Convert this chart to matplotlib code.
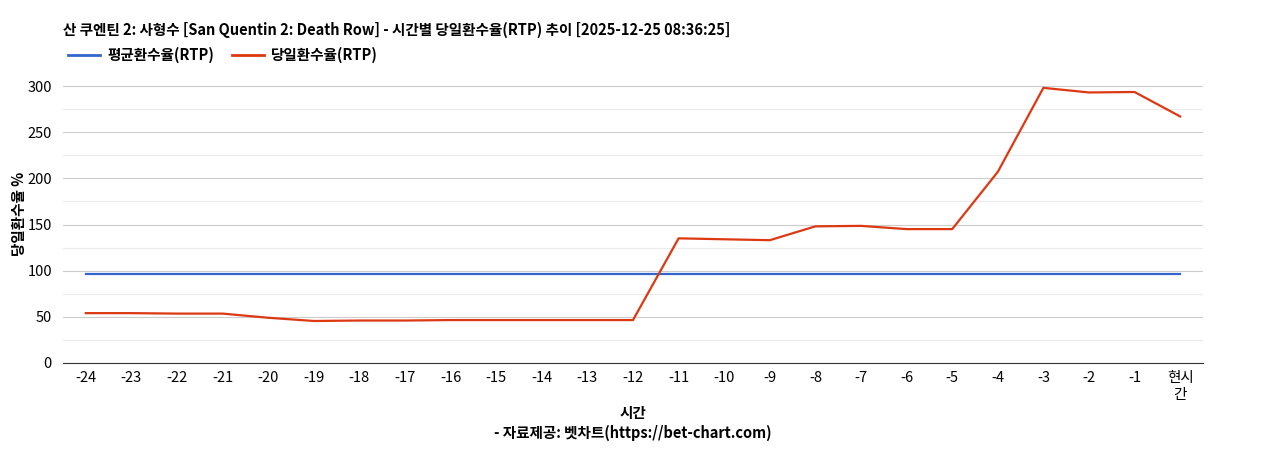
import matplotlib
matplotlib.use("Agg")
import matplotlib.pyplot as plt
from matplotlib.lines import Line2D

plt.rcParams['font.family'] = ['Noto Sans CJK KR', 'DejaVu Sans']

categories = ['-24','-23','-22','-21','-20','-19','-18','-17','-16','-15','-14','-13','-12',
              '-11','-10','-9','-8','-7','-6','-5','-4','-3','-2','-1','현시\n간']
daily_rtp = [54, 54, 53.5, 53.5, 49, 45.5, 46, 46, 46.5, 46.5, 46.5, 46.5, 46.5,
             135, 134, 133, 148, 148.5, 145, 145, 207, 298, 293, 293.5, 267]
avg_rtp = [96.5] * len(categories)

fig = plt.figure(figsize=(12.68, 4.5), dpi=100)
ax = fig.add_axes([63/1268, 1-363/450, 1140/1268, (363-64)/450])
x = list(range(len(categories)))
ax.plot(x, avg_rtp, color='#3366cc', lw=1.6)
ax.plot(x, daily_rtp, color='#dc3912', lw=1.6)
ax.set_xlim(-0.5, len(categories)-0.5)
ax.set_ylim(0, 300*(363-64)/(363-86))
ax.set_yticks([0,50,100,150,200,250,300])
ax.set_yticks([25,75,125,175,225,275], minor=True)
ax.grid(axis='y', which='major', color='#cccccc', lw=0.8)
ax.grid(axis='y', which='minor', color='#ebebeb', lw=0.8)
ax.set_axisbelow(True)
ax.set_xticks(x)
ax.set_xticklabels(categories, fontsize=10.5)
ax.tick_params(axis='y', which='both', labelsize=10.5, length=0, pad=8)
ax.tick_params(axis='x', length=0, pad=6)
for s in ['top','right','left']:
    ax.spines[s].set_visible(False)
ax.spines['bottom'].set_color('#333333')
ax.set_ylabel('당일환수율 %', fontsize=10.5, fontweight='bold')
ax.yaxis.set_label_coords(-0.032, 0.5)
ax.set_xlabel('시간\n- 자료제공: 벳차트(https://bet-chart.com)', fontsize=10.5, fontweight='bold', linespacing=1.3)
ax.xaxis.set_label_coords(0.5, -0.14)

fig.text(63/1268, 1-30/450, '산 쿠엔틴 2: 사형수 [San Quentin 2: Death Row] - 시간별 당일환수율(RTP) 추이 [2025-12-25 08:36:25]',
         fontsize=10.5, fontweight='bold', va='center')
handles = [Line2D([], [], color='#3366cc', lw=2), Line2D([], [], color='#dc3912', lw=2)]
fig.legend(handles, ['평균환수율(RTP)', '당일환수율(RTP)'], loc='center left',
           bbox_to_anchor=(55/1268, 1-55/450), ncol=2, frameon=False,
           prop={'size': 10.5, 'weight': 'bold'}, handlelength=2.2, handletextpad=0.5,
           columnspacing=1.2)
fig.savefig('out.png', dpi=100)
